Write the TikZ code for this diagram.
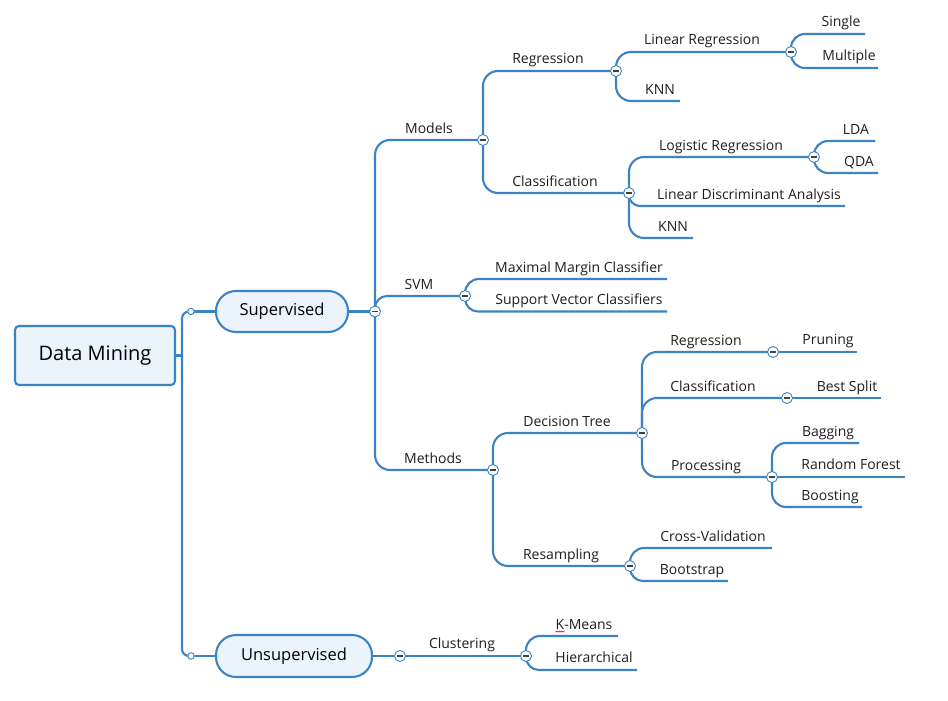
\documentclass[tikz,border=0pt]{standalone}
\usepackage{fontspec}
\setmainfont{Open Sans}
\usetikzlibrary{decorations.pathmorphing}
\definecolor{mmblue}{HTML}{3A83C5}
\definecolor{mmfill}{HTML}{EBF3FB}
\definecolor{mmtext}{HTML}{1E1E1E}
\pgfdeclarelayer{bg}
\pgfsetlayers{bg,main}
\newcommand\mmbr[3]{\draw[conn, rounded corners=#3] (#1) |- (#2);}
\begin{document}
\begin{tikzpicture}[x=1pt,y=-1pt,
  conn/.style={draw=mmblue, line width=2.1pt},
  lbl/.style={anchor=base, font=\fontsize{14}{16}\selectfont, text=mmtext, inner sep=0pt},
  minus/.style={circle, draw=mmblue, fill=white, line width=0.9pt, minimum size=11pt, inner sep=0pt,
    path picture={\draw[black!75, line width=1.4pt] ([xshift=-2.8pt]path picture bounding box.center) -- ([xshift=2.8pt]path picture bounding box.center);}},
  dot/.style={circle, draw=mmblue, fill=white, line width=0.9pt, minimum size=6.5pt, inner sep=0pt},
  rootbox/.style={draw=mmblue, fill=mmfill, line width=2.1pt, rounded corners=4pt, text=black, font=\fontsize{20}{23}\selectfont},
  pill/.style={draw=mmblue, fill=mmfill, line width=2.1pt, rounded corners=20pt, text=black, font=\fontsize{16.5}{19}\selectfont}
]
\useasboundingbox (0,0) rectangle (948,701);

% main boxes
\node[rootbox, minimum width=160pt, minimum height=59pt] (dm) at (95,355.5) {Data Mining};
\node[pill, minimum width=132pt, minimum height=41pt] (sup) at (282,311.5) {Supervised};
\node[pill, minimum width=156pt, minimum height=42pt] (uns) at (294,656) {Unsupervised};

% small joints
\node[dot] (d1) at (191,311.5) {};
\node[dot] (d2) at (191,656) {};
\coordinate (trunk) at (182,355.5);

% collapse circles
\node[minus] (csup) at (375,311.5) {};
\node[minus] (cuns) at (400,656) {};
\node[minus] (cmod) at (483,140) {};
\node[minus] (csvm) at (465,296) {};
\node[minus] (cmeth) at (493,470) {};
\node[minus] (creg) at (616,71) {};
\node[minus] (ccls) at (629,193) {};
\node[minus] (clr) at (791,52) {};
\node[minus] (clog) at (814,157) {};
\node[minus] (cdt) at (642,433) {};
\node[minus] (cres) at (630,566) {};
\node[minus] (creg2) at (773,352) {};
\node[minus] (ccls2) at (787,398) {};
\node[minus] (cproc) at (772,477) {};
\node[minus] (cclu) at (526,656) {};

% leaf line ends
\coordinate (eknn1) at (680,101);
\coordinate (esingle) at (865,34);
\coordinate (emult) at (878,68);
\coordinate (elda) at (875,141);
\coordinate (eqda) at (878,173);
\coordinate (elda2) at (845,206);
\coordinate (eknn2) at (693,238);
\coordinate (emmc) at (667,279);
\coordinate (esvc) at (667,311.5);
\coordinate (epru) at (857,352);
\coordinate (ebest) at (881,398);
\coordinate (ebag) at (859,443);
\coordinate (erf) at (905,477);
\coordinate (eboost) at (862,507);
\coordinate (ecv) at (772,548);
\coordinate (eboot) at (728,581);
\coordinate (ekm) at (618,636);
\coordinate (ehier) at (637,670);

\begin{pgfonlayer}{bg}
\draw[conn, rounded corners=7pt] (d1.center) -| (trunk) |- (d2.center);
\draw[conn] (dm.east) -- (trunk);
\draw[conn] (d1.center) -- (sup.west);
\draw[conn] (d2.center) -- (uns.west);
\draw[conn] (sup.east) -- (csup.center);
\draw[conn] (uns.east) -- (cuns.center);
\draw[conn] (cuns.center) -- (cclu.center);

\mmbr{csup.center}{cmod.center}{15pt}
\mmbr{csup.center}{csvm.center}{12pt}
\mmbr{csup.center}{cmeth.center}{15pt}

\mmbr{cmod.center}{creg.center}{15pt}
\mmbr{cmod.center}{ccls.center}{15pt}
\mmbr{creg.center}{clr.center}{15pt}
\mmbr{creg.center}{eknn1}{15pt}
\mmbr{clr.center}{esingle}{14pt}
\mmbr{clr.center}{emult}{14pt}
\mmbr{ccls.center}{clog.center}{15pt}
\mmbr{ccls.center}{elda2}{11pt}
\mmbr{ccls.center}{eknn2}{15pt}
\mmbr{clog.center}{elda}{14pt}
\mmbr{clog.center}{eqda}{14pt}

\mmbr{csvm.center}{emmc}{14pt}
\mmbr{csvm.center}{esvc}{13pt}

\mmbr{cmeth.center}{cdt.center}{15pt}
\mmbr{cmeth.center}{cres.center}{15pt}
\mmbr{cdt.center}{creg2.center}{15pt}
\mmbr{cdt.center}{ccls2.center}{15pt}
\mmbr{cdt.center}{cproc.center}{15pt}
\draw[conn] (creg2.center) -- (epru);
\draw[conn] (ccls2.center) -- (ebest);
\mmbr{cproc.center}{ebag}{14pt}
\draw[conn] (cproc.center) -- (erf);
\mmbr{cproc.center}{eboost}{14pt}
\mmbr{cres.center}{ecv}{14pt}
\mmbr{cres.center}{eboot}{13pt}
\mmbr{cclu.center}{ekm}{14pt}
\mmbr{cclu.center}{ehier}{13pt}
\end{pgfonlayer}

% labels
\node[lbl] (tmod) at (429,133) {Models};
\node[lbl] (tsvm) at (419,289) {SVM};
\node[lbl] (tmeth) at (433,463) {Methods};
\node[lbl] (treg) at (548,64) {Regression};
\node[lbl] (tcls) at (555,186) {Classification};
\node[lbl] (tlr) at (702,45) {Linear Regression};
\node[lbl] (tknn1) at (660,94) {KNN};
\node[lbl] (tsingle) at (841,27) {Single};
\node[lbl] (tmult) at (849,61) {Multiple};
\node[lbl] (tlog) at (721,150) {Logistic Regression};
\node[lbl] (tlda) at (856,134) {LDA};
\node[lbl] (tqda) at (859,166) {QDA};
\node[lbl] (tlda2) at (749,199) {Linear Discriminant Analysis};
\node[lbl] (tknn2) at (673,231) {KNN};
\node[lbl] (tmmc) at (579,272) {Maximal Margin Classifier};
\node[lbl] (tsvc) at (579,304) {Support Vector Classifiers};
\node[lbl] (tdt) at (567,426) {Decision Tree};
\node[lbl] (tres) at (561,559) {Resampling};
\node[lbl] (treg2) at (706,345) {Regression};
\node[lbl] (tcls2) at (713,391) {Classification};
\node[lbl] (tproc) at (706,470) {Processing};
\node[lbl] (tpru) at (828,344) {Pruning};
\node[lbl] (tbest) at (847,391) {Best Split};
\node[lbl] (tbag) at (828,436) {Bagging};
\node[lbl] (trf) at (851,469) {Random Forest};
\node[lbl] (tboost) at (830,500) {Boosting};
\node[lbl] (tcv) at (713,541) {Cross-Validation};
\node[lbl] (tboot) at (692,574) {Bootstrap};
\node[lbl] (tclu) at (462,648) {Clustering};
\node[lbl] (tkm) at (584,629) {K-Means};
\node[lbl] (thier) at (594,662) {Hierarchical};

% spell-check squiggle under K
\draw[red, line width=0.5pt, decorate, decoration={zigzag, amplitude=0.7pt, segment length=2pt}]
  ([yshift=-2.5pt]tkm.base west) -- ++(9,0);
\end{tikzpicture}
\end{document}
